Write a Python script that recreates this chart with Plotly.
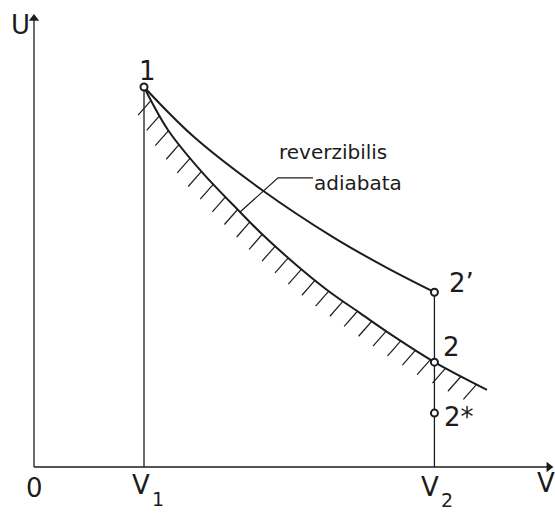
import numpy as np
import plotly.graph_objects as go

# ---- data (V: volume, U: internal energy, arbitrary units) ----
V1 = 1.0
V2 = 3.64
point_V = [1.0, 3.64, 3.64, 3.64]
point_U = [1.0, 0.46, 0.276, 0.142]
point_labels = ["1", "2’", "2", "2*"]

# reversible adiabat (lower, hatched curve)
adiabat_V = [1.0, 1.218, 1.527, 1.873, 2.055, 2.355, 2.664, 2.964, 3.264, 3.64, 4.118]
adiabat_U = [1.0, 0.887, 0.776, 0.671, 0.618, 0.539, 0.466, 0.405, 0.345, 0.276, 0.203]
# irreversible path 1 -> 2'
irrev_V = [1.0, 1.445, 2.073, 2.718, 3.209, 3.64]
irrev_U = [1.0, 0.871, 0.729, 0.605, 0.524, 0.46]

axis_labels = ["U", "V", "0"]
tick_main = ["V", "V"]
tick_sub = ["1", "2"]
label_text = ["reverzibilis", "adiabata"]

# ---- geometry / style ----
W, H = 555, 513
XR = [-0.309, 4.736]
YR = [-0.121, 1.229]
X_END = 4.68
Y_END = 1.18
INK = "#1c1c1c"
FONT = "DejaVu Sans"

def to_px(v, u):
    return ((v - XR[0]) / (XR[1] - XR[0]) * W, (YR[1] - u) / (YR[1] - YR[0]) * H)

def to_data(px, py):
    return (XR[0] + px / W * (XR[1] - XR[0]), YR[1] - py / H * (YR[1] - YR[0]))

fig = go.Figure()

# hatching below the adiabat
pts = np.array([to_px(v, u) for v, u in zip(adiabat_V, adiabat_U)])
seg = np.hypot(np.diff(pts[:, 0]), np.diff(pts[:, 1]))
cum = np.concatenate([[0], np.cumsum(seg)])
total = cum[-1]
spacing = 17.5
hl = 20.0
d = np.array([-0.66, 0.75])
d = d / np.hypot(*d) * hl
s = 15.0
shapes = []
while s <= total + 0.5:
    ss = min(s, total)
    i = min(np.searchsorted(cum, ss) - 1, len(seg) - 1)
    i = max(i, 0)
    t = (ss - cum[i]) / seg[i]
    p = pts[i] + t * (pts[i + 1] - pts[i])
    a = to_data(*p)
    b = to_data(*(p + d))
    shapes.append(dict(type="line", xref="x", yref="y", x0=a[0], y0=a[1], x1=b[0], y1=b[1],
                       line=dict(color=INK, width=1.2)))
    s += spacing

# axes with arrow heads
fig.add_trace(go.Scatter(x=[0, X_END], y=[0, 0], mode="lines",
                         line=dict(color=INK, width=1.3), hoverinfo="skip"))
fig.add_trace(go.Scatter(x=[0, 0], y=[0, Y_END], mode="lines",
                         line=dict(color=INK, width=1.3), hoverinfo="skip"))
fig.add_trace(go.Scatter(x=[X_END], y=[0], mode="markers",
                         marker=dict(symbol="triangle-right", size=9, color=INK), hoverinfo="skip"))
fig.add_trace(go.Scatter(x=[0], y=[Y_END], mode="markers",
                         marker=dict(symbol="triangle-up", size=9, color=INK), hoverinfo="skip"))

# vertical lines at V1 and V2
fig.add_trace(go.Scatter(x=[V1, V1], y=[0, point_U[0]], mode="lines",
                         line=dict(color=INK, width=1.3), hoverinfo="skip"))
fig.add_trace(go.Scatter(x=[V2, V2], y=[0, point_U[1]], mode="lines",
                         line=dict(color=INK, width=1.3), hoverinfo="skip"))

# curves
fig.add_trace(go.Scatter(x=adiabat_V, y=adiabat_U, mode="lines",
                         line=dict(color=INK, width=2, shape="spline", smoothing=1.0)))
fig.add_trace(go.Scatter(x=irrev_V, y=irrev_U, mode="lines",
                         line=dict(color=INK, width=2, shape="spline", smoothing=1.0)))

# leader line for the label
fig.add_trace(go.Scatter(x=[2.536, 2.218, adiabat_V[3]], y=[0.761, 0.761, adiabat_U[3]], mode="lines",
                         line=dict(color=INK, width=1.2)))

# state points
fig.add_trace(go.Scatter(x=point_V, y=point_U, mode="markers",
                         marker=dict(symbol="circle", size=7, color="white",
                                     line=dict(color=INK, width=2))))

ann = []

def txt(x, y, t, size=26, xa="center"):
    ann.append(dict(x=x, y=y, xref="x", yref="y", text=t, showarrow=False, borderpad=0,
                    xanchor=xa, yanchor="middle", font=dict(family=FONT, size=size, color=INK)))

txt(-0.127, 1.163, axis_labels[0])
txt(4.655, -0.042, axis_labels[1])
txt(0.009, -0.055, axis_labels[2])
txt(1.064, -0.047, tick_main[0], xa="right")
txt(1.064, -0.084, tick_sub[0], size=19, xa="left")
txt(3.691, -0.053, tick_main[1], xa="right")
txt(3.691, -0.088, tick_sub[1], size=19, xa="left")
txt(1.036, 1.042, point_labels[0])
txt(3.764, 0.484, point_labels[1], xa="left")
txt(3.709, 0.316, point_labels[2], xa="left")
txt(3.718, 0.132, point_labels[3], xa="left")
txt(2.218, 0.829, label_text[0], size=20, xa="left")
txt(2.536, 0.747, label_text[1], size=20, xa="left")

fig.update_layout(
    width=W, height=H, margin=dict(l=0, r=0, t=0, b=0),
    paper_bgcolor="white", plot_bgcolor="white", showlegend=False,
    xaxis=dict(range=XR, visible=False, fixedrange=True),
    yaxis=dict(range=YR, visible=False, fixedrange=True),
    shapes=shapes, annotations=ann,
)
fig.write_html("out.html")
